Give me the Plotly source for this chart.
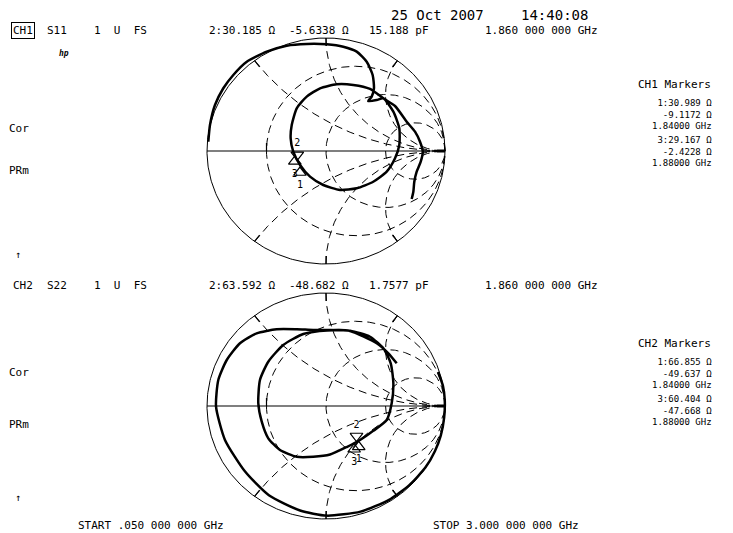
import numpy as np
import plotly.graph_objects as go

W, H = 733, 533

# ---------------- data ----------------
# CH1 S11 trace, reflection coefficient (real, imaginary), 0.05 -> 3 GHz
s11_re = [-0.989, -0.975, -0.933, -0.863, -0.779, -0.666, -0.498, -0.330, -0.162, 0.006,
          0.145, 0.258, 0.342, 0.392, 0.403, 0.384, 0.355, 0.426,
          0.482, 0.566, 0.616, 0.616, 0.580, 0.510, 0.397, 0.258, 0.118, -0.023,
          -0.134, -0.218, -0.275, -0.297, -0.288, -0.246, -0.162, -0.050, 0.090,
          0.229, 0.370, 0.482,
          0.580, 0.678, 0.748, 0.790, 0.813, 0.796, 0.762, 0.742, 0.734, 0.720]
s11_im = [0.082, 0.230, 0.407, 0.555, 0.673, 0.790, 0.879, 0.932, 0.947, 0.944,
          0.923, 0.879, 0.790, 0.673, 0.555, 0.481, 0.442, 0.451,
          0.466, 0.348, 0.201, 0.053, -0.065, -0.183, -0.272, -0.330, -0.345, -0.301,
          -0.227, -0.124, -0.006, 0.112, 0.230, 0.378, 0.481, 0.555, 0.590,
          0.584, 0.549, 0.466,
          0.398, 0.259, 0.171, 0.082, -0.006, -0.095, -0.183, -0.272, -0.360, -0.425]

# CH2 S22 trace, reflection coefficient (real, imaginary)
s22_re = [0.941, 0.983, 0.998, 0.993, 0.965, 0.915, 0.835, 0.700, 0.530, 0.290,
          0.006, -0.218, -0.480, -0.680, -0.849, -0.924, -0.905, -0.834, -0.723, -0.583,
          -0.415, -0.246, -0.108,
          0.006, 0.202, 0.370, 0.482, 0.544, 0.566, 0.552, 0.510, 0.397, 0.286,
          0.174, 0.034, -0.107, -0.246, -0.387, -0.485, -0.540, -0.569, -0.555, -0.485,
          -0.359, -0.191, 0.010, 0.202, 0.426, 0.524, 0.594]
s22_im = [0.301, 0.177, 0.053, -0.100, -0.260, -0.400, -0.545, -0.700, -0.830, -0.935,
          -0.970, -0.925, -0.790, -0.580, -0.300, -0.006, 0.230, 0.407, 0.555, 0.643,
          0.679, 0.679, 0.673,
          0.673, 0.666, 0.613, 0.511, 0.378, 0.201, 0.024, -0.124, -0.220, -0.301,
          -0.363, -0.429, -0.449, -0.449, -0.389, -0.286, -0.139, 0.024, 0.230, 0.392,
          0.540, 0.637, 0.668, 0.664, 0.555, 0.466, 0.378]

# marker read-outs (ohms), Z0 = 50 ohm
Z0 = 50.0
ch1_marker_ids = ["1", "2", "3"]
ch1_marker_r = [30.989, 30.185, 29.167]
ch1_marker_x = [-9.1172, -5.6338, -2.4228]
ch2_marker_ids = ["1", "2", "3"]
ch2_marker_r = [66.855, 63.592, 60.404]
ch2_marker_x = [-49.637, -48.682, -47.668]
active_marker = "2"

# Smith chart graticule values (normalised)
grid_r = [1 / 3, 1, 3]
grid_x = [0.5, 1, 2]
tick_x = [0.5, 1, 2]

# ---------------- layout geometry (pixels) ----------------
CX = 326
CYS = [151, 406]
RX, RY = 119, 113
PAD = 1.06
FONT = "DejaVu Sans Mono"

fig = go.Figure()


def gamma(r_ohm, x_ohm):
    z = complex(r_ohm, x_ohm) / Z0
    g = (z - 1) / (z + 1)
    return g.real, g.imag


def grid_lines():
    xs, ys = [], []
    t = np.linspace(0, 2 * np.pi, 400)
    for r in grid_r:
        c, rad = r / (1 + r), 1 / (1 + r)
        xs += list(c + rad * np.cos(t)) + [None]
        ys += list(rad * np.sin(t)) + [None]
    for xv in grid_x:
        px = (xv ** 2 - 1) / (xv ** 2 + 1)
        py = 2 * xv / (xv ** 2 + 1)
        a0 = np.arctan2(py - 1 / xv, px - 1) % (2 * np.pi)
        a = np.linspace(a0, 1.5 * np.pi, 200)
        ax_ = 1 + (1 / xv) * np.cos(a)
        ay_ = 1 / xv + (1 / xv) * np.sin(a)
        for sgn in (1, -1):
            xs += list(ax_) + [None]
            ys += list(sgn * ay_) + [None]
    return xs, ys


def ticks():
    xs, ys = [], []
    for xv in tick_x:
        th = 2 * np.arctan(1 / xv)
        for sgn in (1, -1):
            xs += [np.cos(th), 0.93 * np.cos(th), None]
            ys += [sgn * np.sin(th), sgn * 0.93 * np.sin(th), None]
    # small tick on real axis
    xs += [-0.5, -0.5, None]
    ys += [0, 0.07, None]
    return xs, ys


def add_chart(idx, tr_re, tr_im, m_ids, m_r, m_x):
    xa = "x" if idx == 0 else "x2"
    ya = "y" if idx == 0 else "y2"
    gx, gy = grid_lines()
    fig.add_trace(go.Scatter(x=gx, y=gy, mode="lines", xaxis=xa, yaxis=ya,
                             line=dict(color="black", width=1, dash="8px,5px"),
                             hoverinfo="skip", showlegend=False))
    t = np.linspace(0, 2 * np.pi, 400)
    fig.add_trace(go.Scatter(x=np.cos(t), y=np.sin(t), mode="lines", xaxis=xa, yaxis=ya,
                             line=dict(color="black", width=1), hoverinfo="skip",
                             showlegend=False))
    tx, ty = ticks()
    fig.add_trace(go.Scatter(x=[-1, 1, None] + tx, y=[0, 0, None] + ty, mode="lines",
                             xaxis=xa, yaxis=ya, line=dict(color="black", width=1.2),
                             hoverinfo="skip", showlegend=False))
    fig.add_trace(go.Scatter(x=[0.93, 1.0], y=[0, 0], mode="lines", xaxis=xa, yaxis=ya,
                             line=dict(color="black", width=3), hoverinfo="skip",
                             showlegend=False))
    fig.add_trace(go.Scatter(x=tr_re, y=tr_im, mode="lines", xaxis=xa, yaxis=ya,
                             line=dict(color="black", width=2.5, shape="spline",
                                       smoothing=0.6),
                             showlegend=False))
    off = 6.0 / RY
    for mid, mr, mx in zip(m_ids, m_r, m_x):
        g_re, g_im = gamma(mr, mx)
        if mid == active_marker:
            fig.add_trace(go.Scatter(x=[g_re], y=[g_im + off], mode="markers", xaxis=xa,
                                     yaxis=ya, marker=dict(symbol="triangle-down-open",
                                     size=11, color="black", line=dict(width=1.2)),
                                     showlegend=False))
            fig.add_trace(go.Scatter(x=[g_re], y=[g_im + 17.0 / RY], mode="text",
                                     xaxis=xa, yaxis=ya, text=[mid],
                                     textfont=dict(family=FONT, size=10, color="black"),
                                     showlegend=False))
        else:
            fig.add_trace(go.Scatter(x=[g_re], y=[g_im - off], mode="markers", xaxis=xa,
                                     yaxis=ya, marker=dict(symbol="triangle-up-open",
                                     size=11, color="black", line=dict(width=1.2)),
                                     showlegend=False))
            fig.add_trace(go.Scatter(x=[g_re], y=[g_im - 19.0 / RY], mode="text",
                                     xaxis=xa, yaxis=ya, text=[mid],
                                     textfont=dict(family=FONT, size=10, color="black"),
                                     showlegend=False))


add_chart(0, s11_re, s11_im, ch1_marker_ids, ch1_marker_r, ch1_marker_x)
add_chart(1, s22_re, s22_im, ch2_marker_ids, ch2_marker_r, ch2_marker_x)


def axis_dom_x():
    return [(CX - PAD * RX) / W, (CX + PAD * RX) / W]


def axis_dom_y(cy):
    return [1 - (cy + PAD * RY) / H, 1 - (cy - PAD * RY) / H]


ax_common = dict(visible=False, range=[-PAD, PAD], fixedrange=True)
fig.update_layout(
    width=W, height=H, margin=dict(l=0, r=0, t=0, b=0),
    paper_bgcolor="white", plot_bgcolor="white", showlegend=False,
    xaxis=dict(domain=axis_dom_x(), anchor="y", **ax_common),
    yaxis=dict(domain=axis_dom_y(CYS[0]), anchor="x", **ax_common),
    xaxis2=dict(domain=axis_dom_x(), anchor="y2", **ax_common),
    yaxis2=dict(domain=axis_dom_y(CYS[1]), anchor="x2", **ax_common),
)

annots = []


def txt(px, py, s, anchor="left", size=11, yanchor="middle", **kw):
    annots.append(dict(x=px / W, y=1 - py / H, xref="paper", yref="paper", text=s,
                       showarrow=False, xanchor=anchor, yanchor=yanchor,
                       font=dict(family=FONT, size=size, color="black"), **kw))


# date / time
txt(438, 15, "25 Oct 2007", "center", 14)
txt(554, 15, "14:40:08", "center", 14)

# channel headers
headers = [
    (30, "CH1", "S11", "2:30.185 Ω", "-5.6338 Ω", "15.188 pF", True),
    (285, "CH2", "S22", "2:63.592 Ω", "-48.682 Ω", "1.7577 pF", False),
]
for py, ch, par, r_txt, x_txt, c_txt, boxed in headers:
    if boxed:
        txt(11, py, ch, bordercolor="black", borderwidth=1, borderpad=1)
    else:
        txt(11, py, ch)
    txt(45, py, par)
    txt(92, py, "1  U  FS")
    txt(207, py, r_txt)
    txt(287, py, x_txt)
    txt(367, py, c_txt)
    txt(483, py, "1.860 000 000 GHz")

# left annotations
txt(57, 53, "<i><b>hp</b></i>", size=8)
for py_cor, py_prm, py_arr in [(129, 171, 255), (372, 424, 497)]:
    txt(7, py_cor, "Cor")
    txt(7, py_prm, "PRm")
    txt(13, py_arr, "↑", size=10)

# marker tables (one multi-line block per marker)
tables = [
    (84, "CH1 Markers", ["1:30.989 Ω", "-9.1172 Ω", "1.84000 GHz"],
     ["3:29.167 Ω", "-2.4228 Ω", "1.88000 GHz"]),
    (343, "CH2 Markers", ["1:66.855 Ω", "-49.637 Ω", "1.84000 GHz"],
     ["3:60.404 Ω", "-47.668 Ω", "1.88000 GHz"]),
]
for py0, title, m1, m3 in tables:
    txt(713, py0, title, "right")
    txt(713, py0 + 13, "<br>".join(m1), "right", size=9, yanchor="top",
        align="right", borderpad=0)
    txt(713, py0 + 50, "<br>".join(m3), "right", size=9, yanchor="top",
        align="right", borderpad=0)

# footer
txt(77, 533, "START .050 000 000 GHz", yanchor="bottom", borderpad=0)
txt(432, 533, "STOP 3.000 000 000 GHz", yanchor="bottom", borderpad=0)

fig.update_layout(annotations=annots)
fig.write_html("out.html", config={"displayModeBar": False},
               post_script="document.body.style.margin='0';")
